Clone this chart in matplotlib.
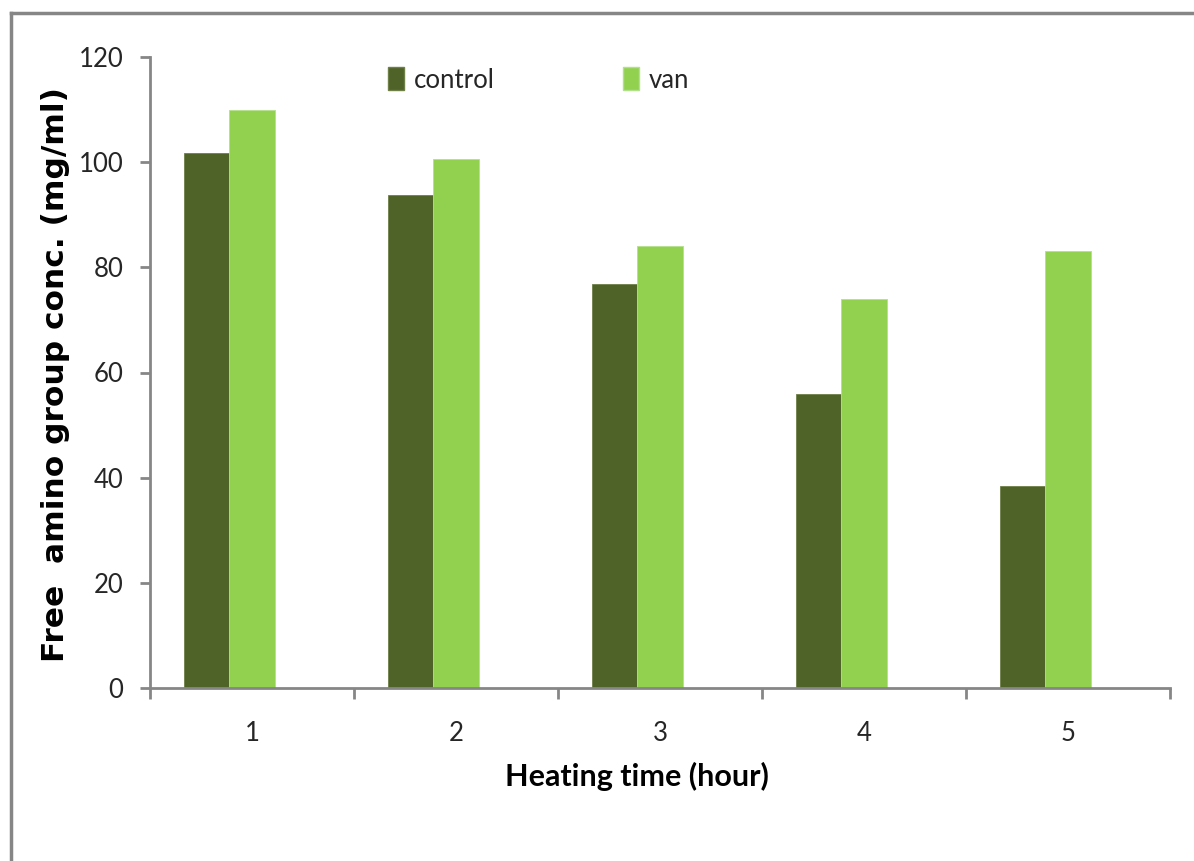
import matplotlib
matplotlib.use("Agg")
import matplotlib.pyplot as plt
import numpy as np
from matplotlib.lines import Line2D
from matplotlib.patches import Patch

categories = ["1", "2", "3", "4", "5"]
control = [101.8, 93.7, 76.9, 55.9, 38.4]
van = [110.0, 100.6, 84.1, 74.0, 83.1]
series_names = ["control", "van"]
y_ticks = [0, 20, 40, 60, 80, 100, 120]

c_control = "#4F6228"
c_van = "#92D050"
grey = "#868686"
txt = "#262626"

fig = plt.figure(figsize=(11.94, 8.61), dpi=100)
ax = fig.add_axes([150/1194, 1-688/861, (1170-150)/1194, (688-57)/861])

x = np.arange(len(categories))
w = 0.223
ax.bar(x - w, control, width=w, color=c_control, edgecolor="#6E8048", linewidth=0.6, zorder=2)
ax.bar(x, van, width=w, color=c_van, edgecolor="#B3E08A", linewidth=0.6, zorder=2)

ax.set_xlim(-0.5, len(categories) - 0.5)
ax.set_ylim(0, 120)
ax.set_yticks(y_ticks)
ax.set_yticklabels([str(v) for v in y_ticks], fontsize=18.5, fontfamily="Lato", color=txt)
ax.set_xticks(x)
ax.set_xticklabels(categories, fontsize=18.5, fontfamily="Lato", color=txt)
ax.set_xticks(np.arange(len(categories) + 1) - 0.5, minor=True)

for s in ["top", "right"]:
    ax.spines[s].set_visible(False)
for s in ["left", "bottom"]:
    ax.spines[s].set_color(grey)
    ax.spines[s].set_linewidth(2)

ax.tick_params(axis="y", which="major", length=7, width=2, color=grey, pad=12)
ax.tick_params(axis="x", which="major", length=0, pad=24)
ax.tick_params(axis="x", which="minor", length=8, width=2, color=grey)

ax.set_xlabel("Heating time (hour)", fontsize=22, fontweight="bold", fontfamily="Lato", color="black")
ax.xaxis.set_label_coords((637-150)/(1170-150), (688-762)/(688-57))
ax.set_ylabel("Free  amino group conc. (mg/ml)", fontsize=22.5, fontweight="bold", fontfamily="DejaVu Sans", color="black")
ax.yaxis.set_label_coords(-(150-70)/(1170-150), (688-375)/(688-57))

handles = [Patch(facecolor=c_control, edgecolor="#6E8048"), Patch(facecolor=c_van, edgecolor="#B3E08A")]
leg = ax.legend(handles, series_names, ncol=2, frameon=False, loc="upper left",
                bbox_to_anchor=((378-150)/1020, 1.0 + (57-57)/631),
                prop={"family": "Lato", "size": 18.5}, handlelength=0.6, handleheight=1.0,
                handletextpad=0.4, columnspacing=5.0, borderaxespad=0)
for t in leg.get_texts():
    t.set_color(txt)

# outer chart frame (partially visible)
fig.add_artist(Line2D([11/1194, 1.0], [1-13/861, 1-13/861], color=grey, lw=2.5, transform=fig.transFigure))
fig.add_artist(Line2D([11/1194, 11/1194], [0, 1-13/861], color=grey, lw=2.5, transform=fig.transFigure))

fig.savefig("out.png", dpi=100)
